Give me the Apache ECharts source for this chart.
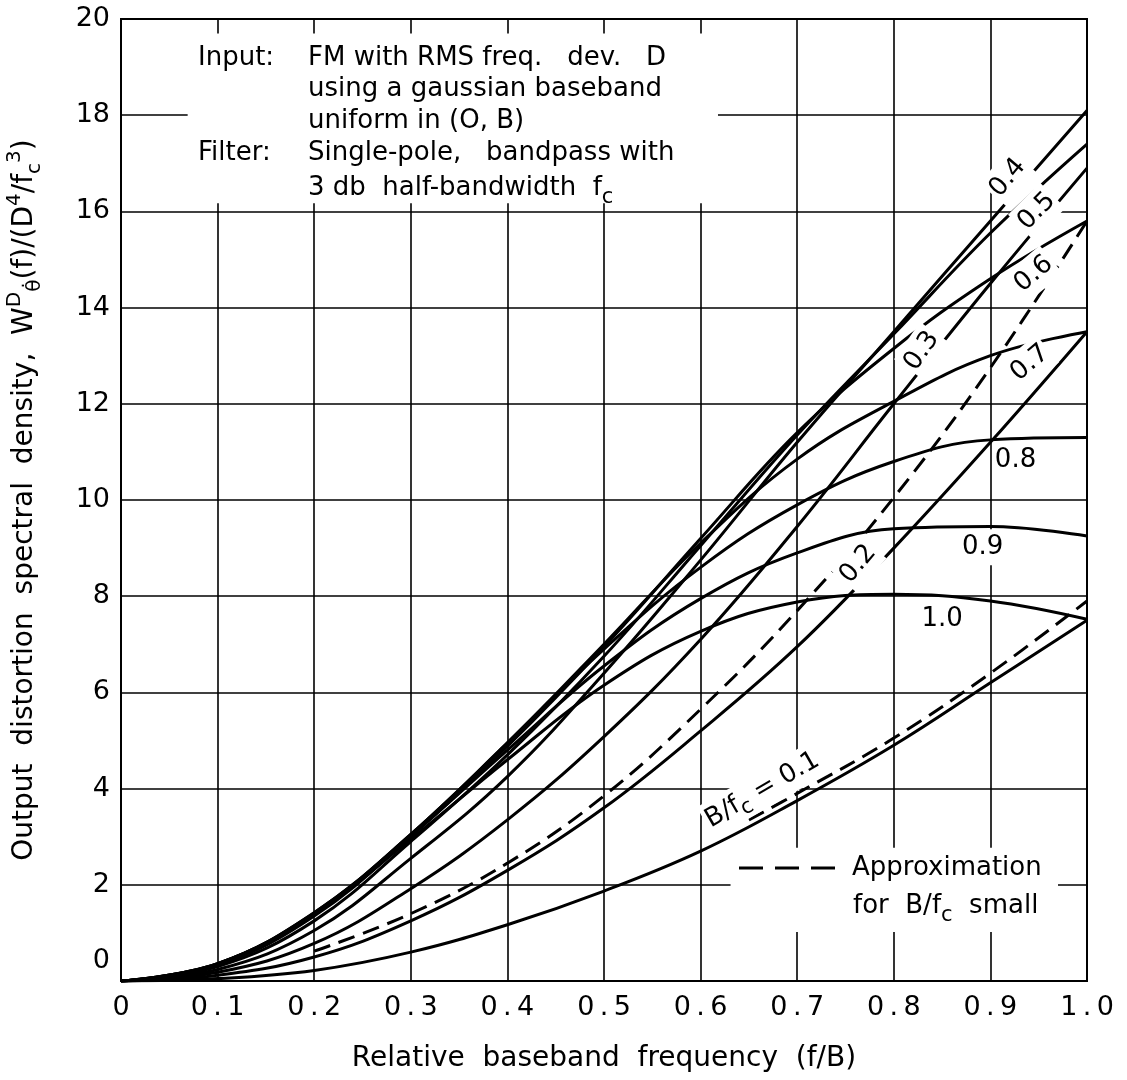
<!DOCTYPE html>
<html lang="en">
  <head>
    <meta charset="UTF-8" />
    <title>Output distortion spectral density</title>
    <script src="https://cdn.jsdelivr.net/npm/echarts@6/dist/echarts.min.js"></script>
    <style>
      html, body { margin: 0; background: #fff; }
    </style>
  </head>
  <body>
    <div id="main" style="width: 1127px; height: 1080px"></div>
    <script type="text/javascript">
      // relative baseband frequency f/B
      const freq = [0, 0.1, 0.2, 0.3, 0.4, 0.5, 0.6, 0.7, 0.8, 0.9, 1.0];

      // W(f)/(D^4/fc^3), one array per B/fc
      const bfc01 = [0, 0.05, 0.22, 0.6, 1.17, 1.87, 2.7, 3.75, 4.9, 6.2, 7.5];
      const bfc02 = [0, 0.12, 0.5, 1.25, 2.3, 3.6, 5.2, 6.95, 9.0, 11.2, 13.5];
      const bfc03 = [0, 0.18, 0.78, 1.92, 3.35, 5.08, 7.1, 9.45, 12.0, 14.5, 16.9];
      const bfc04 = [0, 0.24, 1.05, 2.55, 4.25, 6.4, 8.75, 11.2, 13.5, 15.8, 18.1];
      const bfc05 = [0, 0.3, 1.25, 2.9, 4.7, 6.75, 9.05, 11.35, 13.45, 15.55, 17.4];
      const bfc06 = [0, 0.33, 1.35, 3.0, 4.88, 6.95, 9.2, 11.4, 13.15, 14.6, 15.8];
      const bfc07 = [0, 0.35, 1.4, 3.05, 4.95, 7.0, 9.1, 10.85, 12.05, 13.0, 13.5];
      const bfc08 = [0, 0.36, 1.42, 3.05, 4.95, 6.9, 8.6, 9.9, 10.8, 11.25, 11.3];
      const bfc09 = [0, 0.36, 1.42, 3.02, 4.8, 6.55, 7.95, 8.9, 9.4, 9.45, 9.25];
      const bfc10 = [0, 0.36, 1.4, 2.95, 4.6, 6.15, 7.27, 7.88, 8.04, 7.9, 7.52];
      const curveNames = ["0.1", "0.2", "0.3", "0.4", "0.5", "0.6", "0.7", "0.8", "0.9", "1.0"];
      const curveValues = [bfc01, bfc02, bfc03, bfc04, bfc05, bfc06, bfc07, bfc08, bfc09, bfc10];

      // dashed "approximation for B/fc small"
      const approxFreq01 = [0.65, 0.7, 0.8, 0.9, 1.0];
      const approx01 = [3.35, 3.9, 5.05, 6.4, 7.9];
      const approxFreq02 = [0.2, 0.3, 0.4, 0.5, 0.6, 0.7, 0.8, 0.9, 1.0];
      const approx02 = [0.62, 1.4, 2.45, 3.85, 5.65, 7.7, 10.05, 12.75, 15.8];

      // curve labels written on the plot
      const labelText = ["0.4", "0.5", "0.6", "0.3", "0.7", "0.8", "0.9", "1.0", "0.2", "B/f{s|c} = 0.1"];
      const labelX = [0.918, 0.948, 0.945, 0.829, 0.941, 0.926, 0.892, 0.85, 0.763, 0.664];
      const labelY = [16.7, 16.0, 14.7, 13.1, 12.85, 10.83, 9.02, 7.53, 8.67, 3.97];
      const labelRot = [50, 45, 40, 55, 40, 0, 0, 0, 50, 30];

      const FONT = "DejaVu Sans";
      const toPairs = (xs, ys) => xs.map((x, i) => [x, ys[i]]);

      const solidSeries = curveValues.map((vals, i) => ({
        name: "B/fc = " + curveNames[i],
        type: "line",
        data: toPairs(freq, vals),
        smooth: 0.4,
        symbol: "none",
        silent: true,
        lineStyle: { color: "#000", width: 3 },
        z: 3,
      }));

      const dashedSeries = [
        [approxFreq01, approx01],
        [approxFreq02, approx02],
      ].map(([xs, ys], i) => ({
        name: "approx " + (i + 1),
        type: "line",
        data: toPairs(xs, ys),
        smooth: 0.4,
        symbol: "none",
        silent: true,
        lineStyle: { color: "#000", width: 3, type: [17, 9] },
        z: 3,
      }));

      // white boxes behind the note and the legend (they hide the grid)
      const boxSeries = {
        type: "line",
        data: [],
        silent: true,
        markArea: {
          silent: true,
          itemStyle: { color: "#fff", opacity: 1 },
          data: [
            [{ coord: [0.069, 19.7] }, { coord: [0.618, 16.17] }],
            [{ coord: [0.631, 2.77] }, { coord: [0.97, 1.02] }],
          ],
        },
        z: 2,
      };

      const subRich = { s: { fontFamily: FONT, fontSize: 21, verticalAlign: "bottom", lineHeight: 16 } };

      const labelSeries = {
        type: "scatter",
        symbolSize: 0,
        silent: true,
        z: 5,
        itemStyle: { opacity: 1 },
        data: labelText.map((t, i) => ({
          value: [labelX[i], labelY[i]],
          name: t,
          label: { rotate: labelRot[i] },
        })),
        label: {
          show: true,
          position: "inside",
          formatter: "{b}",
          color: "#000",
          fontFamily: FONT,
          fontSize: 26,
          lineHeight: 36,
          backgroundColor: "#fff",
          padding: [0, 2],
          rich: subRich,
        },
      };

      const textStyle = { fontFamily: FONT, fontSize: 26, fill: "#000", verticalAlign: "middle", lineHeight: 40, rich: subRich };
      const noteLines = [
        [198, 58, "Input:"],
        [308, 58, "FM with RMS freq.   dev.   D"],
        [308, 89, "using a gaussian baseband"],
        [308, 121, "uniform in (O, B)"],
        [198, 153, "Filter:"],
        [308, 153, "Single-pole,   bandpass with"],
        [308, 188, "3 db  half-bandwidth  f{s|c}"],
        [852, 868, "Approximation"],
        [853, 906, "for  B/f{s|c}  small"],
      ];

      const graphics = noteLines.map(([x, y, t]) => ({
        type: "text",
        x: x,
        y: y,
        silent: true,
        z: 10,
        style: Object.assign({ text: t }, textStyle),
      }));
      // legend dash sample
      graphics.push({
        type: "line",
        z: 10,
        silent: true,
        shape: { x1: 739, y1: 868, x2: 838, y2: 868 },
        style: { stroke: "#000", lineWidth: 3, lineDash: [24, 12] },
      });

      let options = {
        backgroundColor: "#fff",
        animation: false,
        grid: {
          left: 121,
          right: 40,
          top: 19,
          bottom: 99,
          show: true,
          borderColor: "#000",
          borderWidth: 2,
          containLabel: false,
          outerBoundsMode: "none",
        },
        xAxis: {
          type: "value",
          min: 0,
          max: 1,
          interval: 0.1,
          name: "Relative  baseband  frequency  (f/B)",
          nameLocation: "middle",
          nameGap: 64,
          nameTextStyle: { fontFamily: FONT, fontSize: 28, color: "#000" },
          axisLine: { show: false },
          axisTick: { show: false },
          axisLabel: {
            margin: 13,
            fontFamily: FONT,
            fontSize: 27,
            color: "#000",
            formatter: (v) => (v === 0 ? "0" : v.toFixed(1).replace(".", "\u2009.\u2009")),
          },
          splitLine: { show: true, lineStyle: { color: "#000", width: 1.6 } },
        },
        yAxis: {
          type: "value",
          min: 0,
          max: 20,
          interval: 2,
          name: "Output  distortion  spectral  density,  W{sup|D}{sub|θ̇}(f)/(D{sup|4}/f{sub|c}{sup|3})",
          nameLocation: "middle",
          nameRotate: 90,
          nameGap: 76,
          nameTextStyle: {
            fontFamily: FONT,
            fontSize: 28,
            color: "#000",
            lineHeight: 40,
            rich: {
              sup: { fontFamily: FONT, fontSize: 20, verticalAlign: "top", lineHeight: 18 },
              sub: { fontFamily: FONT, fontSize: 20, verticalAlign: "bottom", lineHeight: 18 },
            },
          },
          axisLine: { show: false },
          axisTick: { show: false },
          axisLabel: {
            margin: 11,
            fontFamily: FONT,
            fontSize: 27,
            color: "#000",
            // the bottom "0" sits a little above the corner, as in the original
            formatter: (v) => (v === 0 ? "{z|0}" : String(v)),
            rich: { z: { fontFamily: FONT, fontSize: 27, padding: [0, 0, 40, 0] } },
          },
          splitLine: { show: true, lineStyle: { color: "#000", width: 1.6 } },
        },
        series: [boxSeries].concat(solidSeries, dashedSeries, [labelSeries]),
        graphic: graphics,
      };

      let myChart = echarts.init(document.getElementById("main"));
      myChart.setOption(options);
    </script>
  </body>
</html>
